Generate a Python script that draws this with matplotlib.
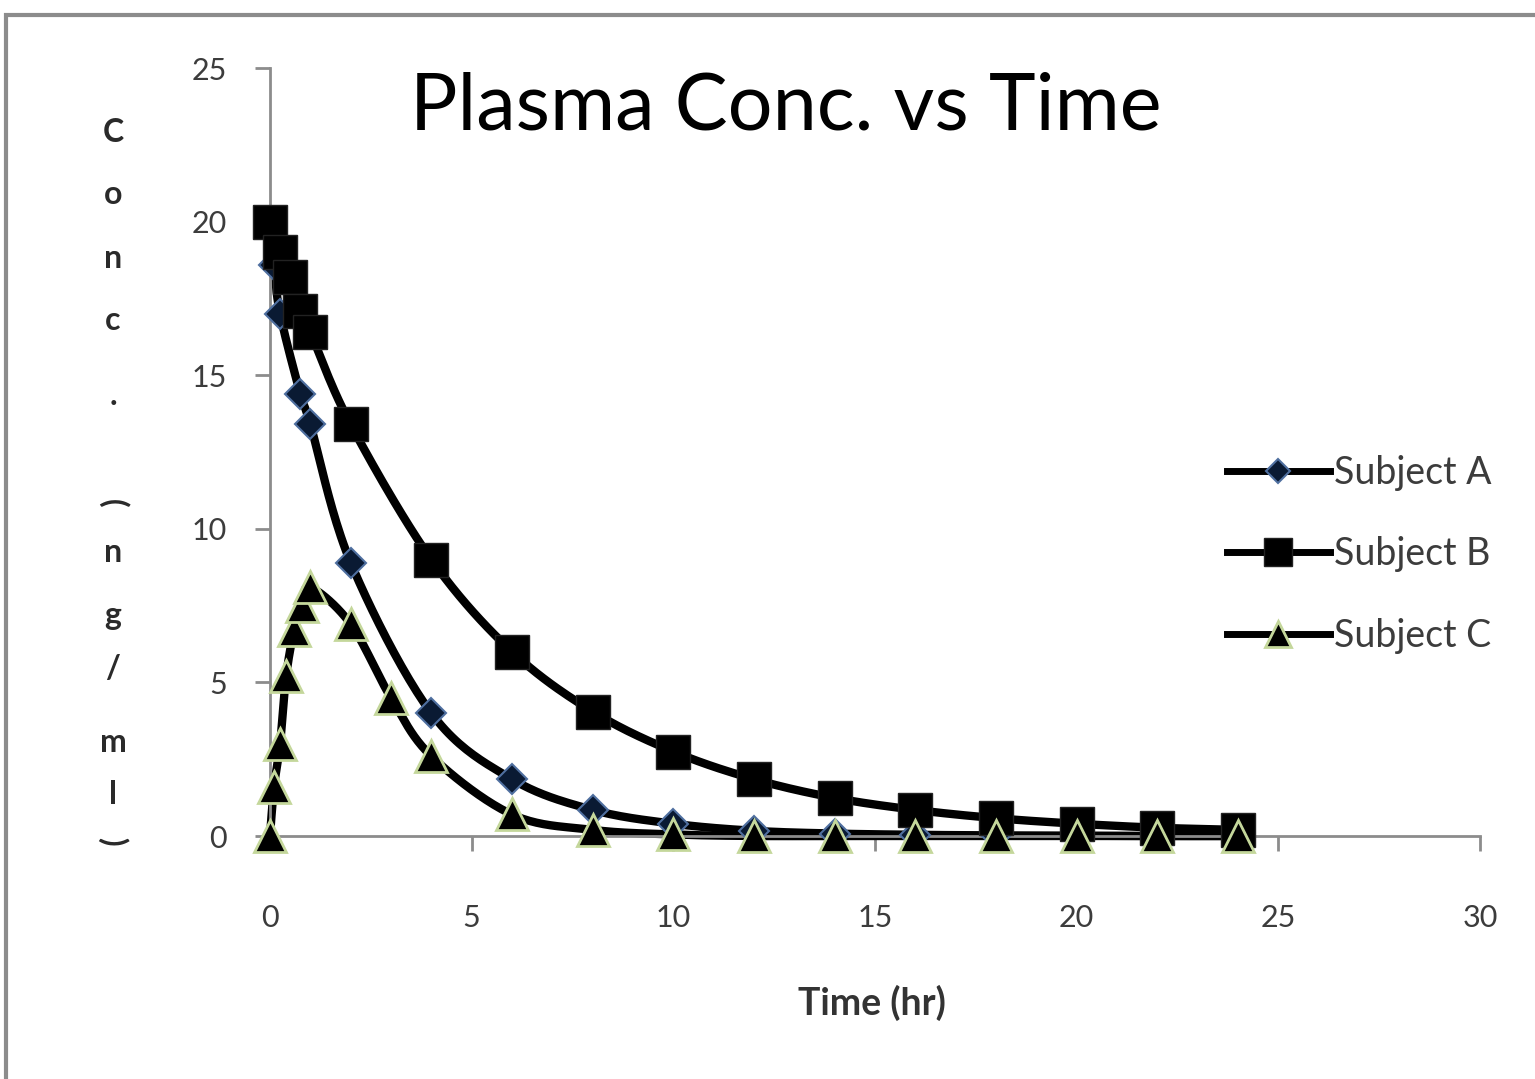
import numpy as np
import matplotlib
matplotlib.use("Agg")
import matplotlib.pyplot as plt
from matplotlib.patches import Rectangle

plt.rcParams['font.family'] = ['Lato', 'DejaVu Sans']

# data (time in hr, conc in ng/ml)
time_a = [0, 0.1, 0.25, 0.75, 1, 2, 4, 6, 8, 10, 12, 14, 16, 18, 20, 22, 24]
conc_a = [20.0, 18.6, 17.0, 14.4, 13.4, 8.9, 4.0, 1.85, 0.85, 0.4, 0.17, 0.08, 0.04, 0.02, 0.01, 0.0, 0.0]

time_b = [0, 0.25, 0.5, 0.75, 1, 2, 4, 6, 8, 10, 12, 14, 16, 18, 20, 22, 24]
conc_b = [20.0, 19.0, 18.2, 17.1, 16.4, 13.4, 9.0, 6.0, 4.05, 2.75, 1.85, 1.24, 0.85, 0.58, 0.4, 0.27, 0.2]

time_c = [0, 0.1, 0.25, 0.4, 0.6, 0.8, 1, 2, 3, 4, 6, 8, 10, 12, 14, 16, 18, 20, 22, 24]
conc_c = [0.0, 1.6, 3.0, 5.2, 6.7, 7.5, 8.1, 6.9, 4.5, 2.6, 0.7, 0.2, 0.05, 0.0, 0.0, 0.0, 0.0, 0.0, 0.0, 0.0]

labels = ['Subject A', 'Subject B', 'Subject C']
x_ticks = [0, 5, 10, 15, 20, 25, 30]
y_ticks = [0, 5, 10, 15, 20, 25]
ylabel_chars = list("Conc.") + list("(ng/ml)")


def smooth(x, y, n=24):
    """Excel-style smoothed line through the points (cubic bezier segments)."""
    x = np.asarray(x, float)
    y = np.asarray(y, float)
    px = np.concatenate([[x[0]], x, [x[-1]]])
    py = np.concatenate([[y[0]], y, [y[-1]]])
    xs, ys = [], []
    t = np.linspace(0, 1, n)
    for i in range(1, len(px) - 2):
        p0 = np.array([px[i - 1], py[i - 1]])
        p1 = np.array([px[i], py[i]])
        p2 = np.array([px[i + 1], py[i + 1]])
        p3 = np.array([px[i + 2], py[i + 2]])
        b1 = p1 + (p2 - p0) / 6
        b2 = p2 - (p3 - p1) / 6
        pts = (np.outer((1 - t) ** 3, p1) + np.outer(3 * (1 - t) ** 2 * t, b1)
               + np.outer(3 * (1 - t) * t ** 2, b2) + np.outer(t ** 3, p2))
        xs.append(pts[:, 0])
        ys.append(pts[:, 1])
    return np.concatenate(xs), np.concatenate(ys)


fig = plt.figure(figsize=(15.35, 10.79), dpi=100)
fig.patches.append(Rectangle((6 / 1535, -0.1), 1.2, 1 - 15 / 1079 + 0.1,
                             transform=fig.transFigure, fill=False,
                             ec='#8c8c8c', lw=3))

ax = fig.add_axes([270 / 1535, 1 - 836 / 1079, 1210 / 1535, 768 / 1079])

series = [
    (time_a, conc_a, dict(marker='D', markersize=15, mfc='#0a1a33', mec='#4f6f9f', mew=1.5)),
    (time_b, conc_b, dict(marker='s', markersize=25, mfc='black', mec='#222222', mew=1)),
    (time_c, conc_c, dict(marker='^', markersize=23, mfc='black', mec='#c4d79b', mew=2)),
]

handles = []
for (t, c, style), lab in zip(series, labels):
    sx, sy = smooth(t, c)
    ax.plot(sx, sy, color='black', lw=6, clip_on=False, zorder=2)
    ax.plot(t, c, ls='none', clip_on=False, zorder=3, **style)
    h, = ax.plot([], [], color='black', lw=5, label=lab, **style)
    handles.append(h)

ax.set_xlim(0, 30)
ax.set_ylim(0, 25)
ax.set_xticks(x_ticks)
ax.set_yticks(y_ticks)
for s in ['top', 'right']:
    ax.spines[s].set_visible(False)
for s in ['left', 'bottom']:
    ax.spines[s].set_color('#8c8c8c')
    ax.spines[s].set_linewidth(2)
ax.tick_params(axis='both', direction='out', length=11, width=2, color='#8c8c8c',
               labelsize=22, labelcolor='#3c3c3c')
ax.tick_params(axis='y', pad=20)
ax.tick_params(axis='x', pad=38)

fig.text(0.512, 0.90, 'Plasma Conc. vs Time', ha='center', va='center',
         fontsize=57, color='black')
fig.text(872 / 1535, 1 - 1003 / 1079, 'Time (hr)', ha='center', va='center',
         fontsize=27, fontweight='bold', color='#333333')

# stacked y axis title
ylab_y = [132, 195, 258, 321, 396, 503, 552, 615, 669, 742, 795, 841]
for ch, yy in zip(ylabel_chars, ylab_y):
    rot = -90 if ch in '()' else 0
    fig.text(113 / 1535, 1 - yy / 1079, ch, ha='center', va='center',
             fontsize=23, fontweight='bold', rotation=rot, color='#2a2a2a')

ax.legend(handles=handles, loc='upper left', bbox_to_anchor=(1208 / 1535, 1 - 436 / 1079),
          bbox_transform=fig.transFigure, frameon=False, fontsize=27,
          handlelength=2.75, handletextpad=0.12, labelspacing=1.22, borderpad=0,
          markerscale=0.8, labelcolor='#3c3c3c')

fig.savefig('out.png', dpi=100)
